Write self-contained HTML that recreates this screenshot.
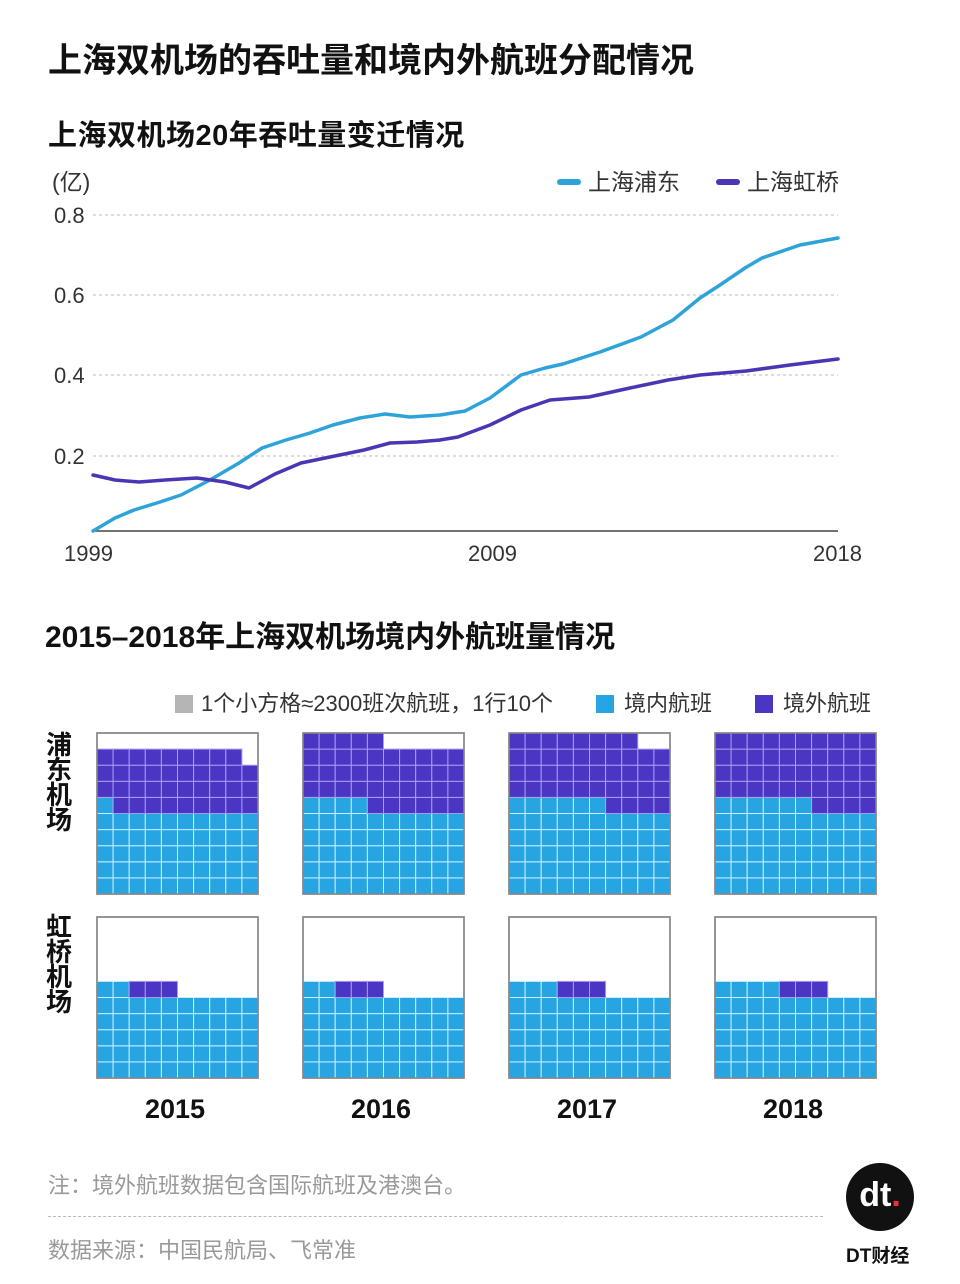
<!DOCTYPE html>
<html><head><meta charset="utf-8"><style>
body{margin:0;background:#fff;width:960px;height:1284px;overflow:hidden;position:relative;font-family:"Liberation Sans","Noto Sans CJK SC",sans-serif;}
.t{position:absolute;white-space:nowrap;}
</style></head><body>
<div class="t" style="left:48px;top:33px;font-size:34px;font-weight:bold;color:#111;">上海双机场的吞吐量和境内外航班分配情况</div>
<div class="t" style="left:48px;top:112px;font-size:29px;font-weight:bold;color:#111;letter-spacing:0.5px">上海双机场20年吞吐量变迁情况</div>
<svg width="960" height="600" style="position:absolute;left:0;top:0" font-family="Liberation Sans,Noto Sans CJK SC,sans-serif">
<text x="52" y="190" font-size="23" fill="#333">(亿)</text>
<rect x="557" y="179" width="24" height="6" rx="3" fill="#2ea3da"/>
<text x="588" y="190" font-size="23" fill="#333">上海浦东</text>
<rect x="716" y="179" width="24" height="6" rx="3" fill="#4b35b5"/>
<text x="747" y="190" font-size="23" fill="#333">上海虹桥</text>
<g stroke="#bbb" stroke-dasharray="3,3" stroke-width="1">
<line x1="93" y1="215" x2="838" y2="215"/><line x1="93" y1="295" x2="838" y2="295"/>
<line x1="93" y1="375" x2="838" y2="375"/><line x1="93" y1="456" x2="838" y2="456"/></g>
<g font-size="22" fill="#333"><text x="54" y="223">0.8</text><text x="54" y="303">0.6</text><text x="54" y="383">0.4</text><text x="54" y="464">0.2</text>
<text x="64" y="561">1999</text><text x="468" y="561">2009</text><text x="813" y="561">2018</text></g>
<line x1="93" y1="531" x2="838" y2="531" stroke="#444" stroke-width="1.5"/>
<polyline fill="none" stroke="#2ea3da" stroke-width="3.5" stroke-linejoin="round" stroke-linecap="round" points="93,531 115,518 134,510 160,502 181,495 210,480 239,463 262,448 286,440 310,433 333,425 360,418 385,414 410,417 440,415 465,411 490,398 521,375 545,368 563,364 600,352 641,337 673,320 700,298 720,285 745,268 762,258 800,245 838,238"/>
<polyline fill="none" stroke="#4b35b5" stroke-width="3.5" stroke-linejoin="round" stroke-linecap="round" points="93,475 115,480 139,482 165,480 197,478 225,482 249,488 275,474 301,463 330,457 364,450 390,443 417,442 440,440 458,437 490,425 521,410 550,400 589,397 630,388 668,380 700,375 746,371 790,365 838,359"/>
</svg>
<div class="t" style="left:45px;top:612px;font-size:30px;font-weight:bold;color:#111;">2015–2018年上海双机场境内外航班量情况</div>
<div class="t" style="left:175px;top:686px;font-size:22px;color:#333;"><span style="display:inline-block;width:18px;height:18px;background:#b5b5b5;vertical-align:-2px;margin-right:8px"></span>1个小方格≈2300班次航班，1行10个</div>
<div class="t" style="left:596px;top:686px;font-size:22px;color:#333;"><span style="display:inline-block;width:18px;height:18px;background:#27a4e2;vertical-align:-2px;margin-right:10px"></span>境内航班</div>
<div class="t" style="left:755px;top:686px;font-size:22px;color:#333;"><span style="display:inline-block;width:18px;height:18px;background:#4a36c2;vertical-align:-2px;margin-right:10px"></span>境外航班</div>
<div class="t" style="left:46px;top:733px;font-size:26px;font-weight:bold;line-height:25px;width:28px;white-space:normal;color:#111;">浦东机场</div>
<div class="t" style="left:46px;top:915px;font-size:26px;font-weight:bold;line-height:25px;width:28px;white-space:normal;color:#111;">虹桥机场</div>
<svg id="w" width="960" height="1284" style="position:absolute;left:0;top:0"></svg>
<div class="t" style="left:145px;top:1094px;font-size:27px;font-weight:bold;color:#111;">2015</div>
<div class="t" style="left:351px;top:1094px;font-size:27px;font-weight:bold;color:#111;">2016</div>
<div class="t" style="left:557px;top:1094px;font-size:27px;font-weight:bold;color:#111;">2017</div>
<div class="t" style="left:763px;top:1094px;font-size:27px;font-weight:bold;color:#111;">2018</div>
<div class="t" style="left:48px;top:1168px;font-size:22px;color:#999;">注：境外航班数据包含国际航班及港澳台。</div>
<div style="position:absolute;left:48px;top:1216px;width:775px;border-top:1px dashed #bbb"></div>
<div class="t" style="left:48px;top:1233px;font-size:22px;color:#999;">数据来源：中国民航局、飞常准</div>
<div style="position:absolute;left:846px;top:1163px;width:68px;height:68px;border-radius:50%;background:#111;color:#fff;font-size:34px;font-weight:bold;text-align:center;line-height:64px;">dt<span style="color:#e33">.</span></div>
<div class="t" style="left:846px;top:1241px;font-size:19px;font-weight:bold;color:#111;">DT财经</div>
<script>
var s=document.getElementById('w'),h='';
var xs=[97,303,509,715],ys=[733,917];
var data=[[[51,38],[54,41],[56,42],[56,44]],[[52,3],[52,3],[53,3],[54,3]]];
var c=16.1;
for(var r=0;r<2;r++)for(var k=0;k<4;k++){var x0=xs[k],y0=ys[r],b=data[r][k][0],p=data[r][k][1];
h+='<rect x="'+x0+'" y="'+y0+'" width="161" height="161" fill="#fff" stroke="#888" stroke-width="1.5"/>';
for(var i=0;i<b+p;i++){var row=9-Math.floor(i/10),col=i%10;
h+='<rect x="'+(x0+col*c)+'" y="'+(y0+row*c)+'" width="'+c+'" height="'+c+'" fill="'+(i<b?'#27a4e2':'#4a36c2')+'" stroke="'+(i<b?'#c8f0ff':'#a89cf0')+'" stroke-width="1"/>';}
h+='<rect x="'+x0+'" y="'+y0+'" width="161" height="161" fill="none" stroke="#888" stroke-width="1.5"/>';}
s.innerHTML=h;
</script>
</body></html>
